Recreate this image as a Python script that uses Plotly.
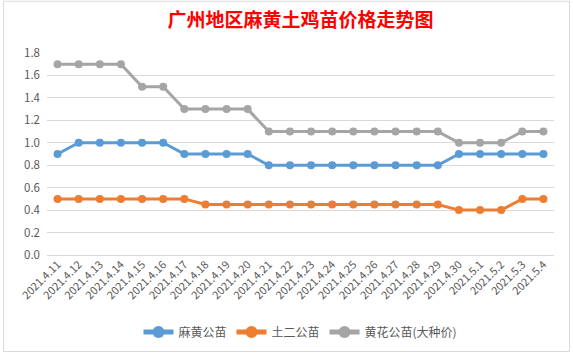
import plotly.graph_objects as go

dates = ["2021.4.11", "2021.4.12", "2021.4.13", "2021.4.14", "2021.4.15", "2021.4.16",
         "2021.4.17", "2021.4.18", "2021.4.19", "2021.4.20", "2021.4.21", "2021.4.22",
         "2021.4.23", "2021.4.24", "2021.4.25", "2021.4.26", "2021.4.27", "2021.4.28",
         "2021.4.29", "2021.4.30", "2021.5.1", "2021.5.2", "2021.5.3", "2021.5.4"]
mahuang = [0.9, 1.0, 1.0, 1.0, 1.0, 1.0, 0.9, 0.9, 0.9, 0.9, 0.8, 0.8,
           0.8, 0.8, 0.8, 0.8, 0.8, 0.8, 0.8, 0.9, 0.9, 0.9, 0.9, 0.9]
tuer = [0.5, 0.5, 0.5, 0.5, 0.5, 0.5, 0.5, 0.45, 0.45, 0.45, 0.45, 0.45,
        0.45, 0.45, 0.45, 0.45, 0.45, 0.45, 0.45, 0.4, 0.4, 0.4, 0.5, 0.5]
huanghua = [1.7, 1.7, 1.7, 1.7, 1.5, 1.5, 1.3, 1.3, 1.3, 1.3, 1.1, 1.1,
            1.1, 1.1, 1.1, 1.1, 1.1, 1.1, 1.1, 1.0, 1.0, 1.0, 1.1, 1.1]
series_names = ["麻黄公苗", "土二公苗", "黄花公苗(大种价)"]
colors = ["#5B9BD5", "#ED7D31", "#A5A5A5"]
y_ticks = [0.0, 0.2, 0.4, 0.6, 0.8, 1.0, 1.2, 1.4, 1.6, 1.8]

FONT = "Noto Sans CJK SC"
fig = go.Figure()
for name, vals, c in zip(series_names, [mahuang, tuer, huanghua], colors):
    fig.add_trace(go.Scatter(
        x=list(range(len(dates))), y=vals, name=name, mode="lines+markers",
        line=dict(color=c, width=3), marker=dict(color=c, size=8),
    ))

L, R, T, B = 46.5, 554.5, 53, 256
W, H = 573, 357
fig.update_layout(
    width=W, height=H,
    margin=dict(l=L, r=W - R, t=T, b=H - B),
    paper_bgcolor="white", plot_bgcolor="white",
    title=dict(text="广州地区麻黄土鸡苗价格走势图", x=0.5, xref="paper", xanchor="center",
               y=1 - 20 / H, yanchor="middle",
               font=dict(family=FONT, size=19, color="#FF0000", weight="bold")),
    showlegend=True,
    legend=dict(orientation="h", x=0.5, xref="paper", xanchor="center",
                y=(B - 332) / (B - T), yanchor="middle",
                font=dict(family=FONT, size=12, color="#595959"),
                itemwidth=30, tracegroupgap=0, itemsizing="constant"),
    xaxis=dict(
        range=[-0.5, len(dates) - 0.5], tickmode="array",
        tickvals=list(range(len(dates))), ticktext=dates, tickangle=-45,
        showgrid=False, zeroline=False, showline=False, ticks="",
        tickfont=dict(family=FONT, size=11, color="#595959"),
    ),
    yaxis=dict(
        range=[0, 1.8], tickmode="array", tickvals=y_ticks,
        ticktext=[f"{v:.1f}" for v in y_ticks],
        showgrid=True, gridcolor="#D9D9D9", gridwidth=1,
        zeroline=True, zerolinecolor="#D9D9D9", zerolinewidth=1,
        showline=False, ticks="", ticklabelstandoff=6,
        tickfont=dict(family=FONT, size=11.5, color="#595959"),
    ),
    shapes=[dict(type="rect", xref="paper", yref="paper",
                 x0=(3 - L) / (R - L), x1=(570 - L) / (R - L),
                 y0=(B - 353) / (B - T), y1=(B - 1) / (B - T),
                 line=dict(color="#D9D9D9", width=1), layer="below")],
)
fig.write_html("out.html", config={"displayModeBar": False},
               post_script="document.body.style.margin='0';")
